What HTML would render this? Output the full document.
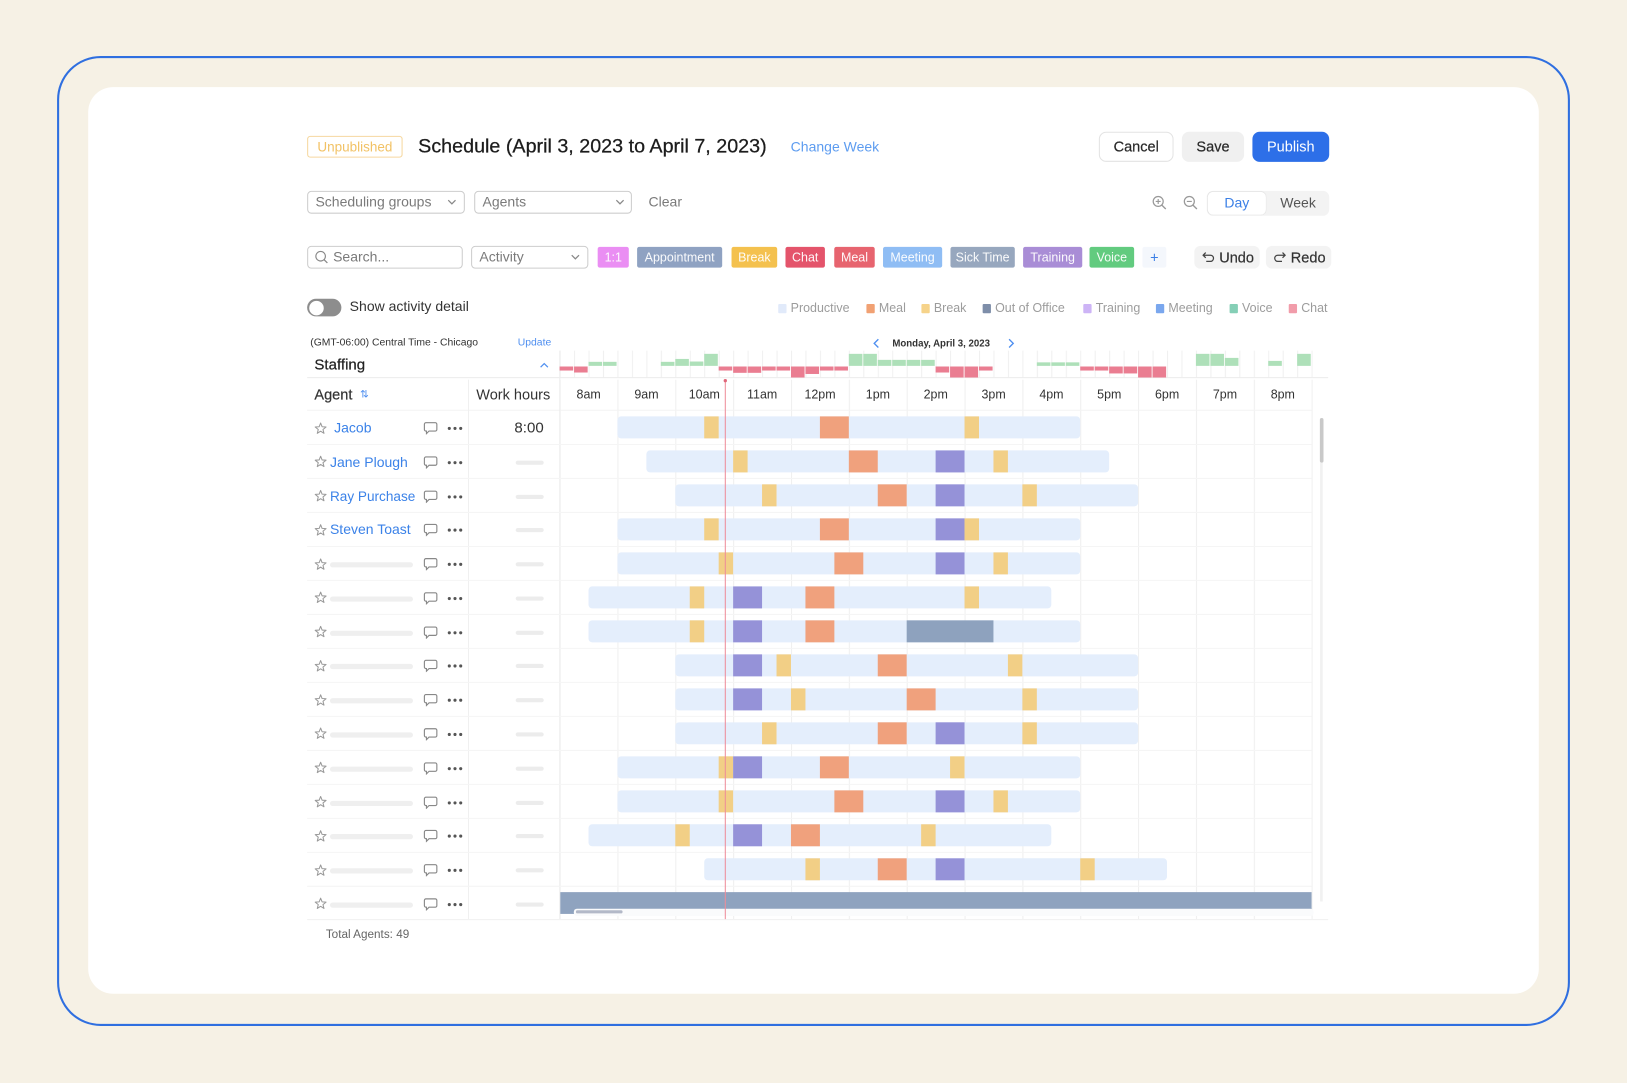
<!DOCTYPE html>
<html><head><meta charset="utf-8">
<style>
html,body{margin:0;padding:0;}
body{width:1627px;height:1083px;overflow:hidden;background:#f6f1e5;font-family:"Liberation Sans",sans-serif;position:relative;}
#w{position:absolute;left:0;top:0;width:1568px;height:1044px;transform:scale(1.03763,1.03736);transform-origin:0 0;}
.a{position:absolute;white-space:nowrap;box-sizing:border-box;}
.dd{position:absolute;box-sizing:border-box;height:22px;border:1px solid #cdcdcd;border-radius:4px;font-size:13.5px;color:#7a7a7a;line-height:20px;padding-left:7px;white-space:nowrap;}
.dd svg{position:absolute;top:7px;}
.chip{position:absolute;top:238px;height:20px;line-height:20px;font-size:12px;color:rgba(255,255,255,0.95);text-align:center;border-radius:2px;white-space:nowrap;}
.lg{position:absolute;top:292px;font-size:12px;color:#9c9c9c;line-height:10px;white-space:nowrap;}
.lg i{position:absolute;left:-12.5px;top:1px;width:8.5px;height:8.5px;border-radius:1px;}
.r{position:absolute;left:0;width:560px;height:20px;}
.r .st{position:absolute;left:303px;top:3.5px;}
.r .ch{position:absolute;left:408px;top:3px;}
.r .dt{position:absolute;left:431px;top:8px;}
.r .nm{position:absolute;left:318px;top:0;line-height:20px;font-size:13.5px;color:#3b82e8;white-space:nowrap;}
.r .ph{position:absolute;left:318px;top:8px;width:80px;height:5px;border-radius:3px;background:#efefef;}
.r .wp{position:absolute;left:497px;top:8px;width:27px;height:4px;border-radius:2px;background:#ececec;}
.tl{position:absolute;top:373px;width:56px;text-align:center;font-size:12px;color:#333;line-height:14px;}
</style></head><body><div id="w">

<!-- frame -->
<div class="a" style="left:55px;top:54px;width:1458px;height:935px;border:2px solid #2f6fe0;border-radius:42px;"></div>
<div class="a" style="left:85px;top:84px;width:1398px;height:874px;background:#fff;border-radius:24px;"></div>

<!-- header -->
<div class="a" style="left:296px;top:131px;width:92px;height:21px;border:1px solid #f6d8a0;border-radius:3px;font-size:13px;color:#f2c265;line-height:19px;text-align:center;">Unpublished</div>
<div class="a" style="left:403px;top:130px;height:24px;line-height:24px;font-size:19px;color:#1c1c1c;-webkit-text-stroke:0.25px #1c1c1c;">Schedule (April 3, 2023 to April 7, 2023)</div>
<div class="a" style="left:762px;top:132px;height:20px;line-height:20px;font-size:13.5px;color:#5d9cf0;">Change Week</div>
<div class="a" style="left:1059px;top:127px;width:72px;height:29px;border:1px solid #e3e3e3;border-radius:7px;font-size:14px;color:#2a2a2a;line-height:27px;text-align:center;-webkit-text-stroke:0.2px #2a2a2a;">Cancel</div>
<div class="a" style="left:1139px;top:127px;width:60px;height:29px;background:#f0f0f0;border-radius:7px;font-size:14px;color:#2a2a2a;line-height:29px;text-align:center;-webkit-text-stroke:0.2px #2a2a2a;">Save</div>
<div class="a" style="left:1207px;top:127px;width:74px;height:29px;background:#2d6fe8;border-radius:7px;font-size:14px;color:#fff;line-height:29px;text-align:center;">Publish</div>

<!-- row 2 -->
<div class="dd" style="left:296px;top:184px;width:152px;">Scheduling groups<svg style="left:134px" width="9" height="6"><polyline points="1,1 4.5,4.5 8,1" fill="none" stroke="#888" stroke-width="1.2"/></svg></div>
<div class="dd" style="left:457px;top:184px;width:152px;">Agents<svg style="left:135px" width="9" height="6"><polyline points="1,1 4.5,4.5 8,1" fill="none" stroke="#888" stroke-width="1.2"/></svg></div>
<div class="a" style="left:625px;top:185px;line-height:20px;font-size:13.5px;color:#7a7a7a;">Clear</div>
<svg class="a" style="left:1110px;top:188px" width="15" height="15"><circle cx="6.2" cy="6.2" r="4.8" fill="none" stroke="#999" stroke-width="1.2"/><line x1="9.7" y1="9.7" x2="13.5" y2="13.5" stroke="#999" stroke-width="1.3"/><line x1="3.8" y1="6.2" x2="8.6" y2="6.2" stroke="#999" stroke-width="1.1"/><line x1="6.2" y1="3.8" x2="6.2" y2="8.6" stroke="#999" stroke-width="1.1"/></svg>
<svg class="a" style="left:1140px;top:188px" width="15" height="15"><circle cx="6.2" cy="6.2" r="4.8" fill="none" stroke="#999" stroke-width="1.2"/><line x1="9.7" y1="9.7" x2="13.5" y2="13.5" stroke="#999" stroke-width="1.3"/><line x1="3.8" y1="6.2" x2="8.6" y2="6.2" stroke="#999" stroke-width="1.1"/></svg>
<div class="a" style="left:1163px;top:184px;width:118px;height:24px;background:#f3f3f3;border-radius:6px;"></div>
<div class="a" style="left:1164px;top:185px;width:56px;height:22px;background:#fff;border-radius:5px;box-shadow:0 0 1px rgba(0,0,0,0.12);font-size:13.5px;color:#3b7fe6;line-height:22px;text-align:center;">Day</div>
<div class="a" style="left:1222px;top:185px;width:58px;height:22px;font-size:13.5px;color:#555;line-height:22px;text-align:center;">Week</div>

<!-- row 3 -->
<div class="dd" style="left:296px;top:237px;width:150px;padding-left:24px;">Search...</div>
<svg class="a" style="left:303px;top:241px" width="14" height="14"><circle cx="6" cy="6" r="4.6" fill="none" stroke="#888" stroke-width="1.1"/><line x1="9.3" y1="9.3" x2="12.5" y2="12.5" stroke="#888" stroke-width="1.2"/></svg>
<div class="dd" style="left:454px;top:237px;width:113px;">Activity<svg style="left:95px" width="9" height="6"><polyline points="1,1 4.5,4.5 8,1" fill="none" stroke="#888" stroke-width="1.2"/></svg></div>
<div class="chip" style="left:576px;width:30px;background:#ea8ef3;">1:1</div>
<div class="chip" style="left:614px;width:82px;background:#8fa2c2;">Appointment</div>
<div class="chip" style="left:705px;width:44px;background:#f4c14e;">Break</div>
<div class="chip" style="left:757px;width:38px;background:#e4546b;">Chat</div>
<div class="chip" style="left:804px;width:39px;background:#e7646f;">Meal</div>
<div class="chip" style="left:851px;width:57px;background:#8fbdf4;">Meeting</div>
<div class="chip" style="left:916px;width:62px;background:#97a7be;">Sick Time</div>
<div class="chip" style="left:986px;width:57px;background:#a98dd6;">Training</div>
<div class="chip" style="left:1050px;width:43px;background:#62cb7f;">Voice</div>
<div class="chip" style="left:1101px;width:23px;background:#f4f7fc;color:#3b7fe6;font-size:14px;">+</div>
<div class="a" style="left:1151px;top:237px;width:63px;height:22px;background:#f3f3f3;border-radius:6px;font-size:14px;color:#333;line-height:22px;padding-left:24px;-webkit-text-stroke:0.2px #333;">Undo</div>
<svg class="a" style="left:1158px;top:242px" width="14" height="12"><path d="M4 1.5 L1.5 4 L4 6.5 M1.5 4 H8.5 a3 3 0 0 1 0 6 H4.5" fill="none" stroke="#444" stroke-width="1.2"/></svg>
<div class="a" style="left:1220px;top:237px;width:63px;height:22px;background:#f3f3f3;border-radius:6px;font-size:14px;color:#333;line-height:22px;padding-left:24px;-webkit-text-stroke:0.2px #333;">Redo</div>
<svg class="a" style="left:1226px;top:242px" width="14" height="12"><path d="M10 1.5 L12.5 4 L10 6.5 M12.5 4 H5.5 a3 3 0 0 0 0 6 H9.5" fill="none" stroke="#444" stroke-width="1.2"/></svg>

<!-- row 4 -->
<div class="a" style="left:296px;top:288px;width:33px;height:17px;border-radius:9px;background:#8d8d8d;"></div>
<div class="a" style="left:298px;top:289.5px;width:14px;height:14px;border-radius:7px;background:#fff;"></div>
<div class="a" style="left:337px;top:286px;line-height:20px;font-size:13.5px;color:#333;">Show activity detail</div>
<div class="lg" style="left:762px;"><i style="background:#e1eafa"></i>Productive</div>
<div class="lg" style="left:847px;"><i style="background:#f1a173"></i>Meal</div>
<div class="lg" style="left:900px;"><i style="background:#f6d38a"></i>Break</div>
<div class="lg" style="left:959px;"><i style="background:#7e8ea9"></i>Out of Office</div>
<div class="lg" style="left:1056px;"><i style="background:#cdb4f6"></i>Training</div>
<div class="lg" style="left:1126px;"><i style="background:#7aa7ee"></i>Meeting</div>
<div class="lg" style="left:1197px;"><i style="background:#85cfb6"></i>Voice</div>
<div class="lg" style="left:1254px;"><i style="background:#f19caa"></i>Chat</div>

<!-- row 5 -->
<div class="a" style="left:299px;top:324px;line-height:14px;font-size:10px;color:#333;">(GMT-06:00) Central Time - Chicago</div>
<div class="a" style="left:499px;top:324px;line-height:14px;font-size:10px;color:#4f8ff0;">Update</div>
<svg class="a" style="left:841px;top:326px" width="7" height="10"><polyline points="5.5,1 1.5,5 5.5,9" fill="none" stroke="#4f8ff0" stroke-width="1.3"/></svg>
<div class="a" style="left:860px;top:324px;line-height:14px;font-size:9.3px;font-weight:bold;color:#333;">Monday, April 3, 2023</div>
<svg class="a" style="left:971px;top:326px" width="7" height="10"><polyline points="1.5,1 5.5,5 1.5,9" fill="none" stroke="#4f8ff0" stroke-width="1.3"/></svg>
<div class="a" style="left:303px;top:343px;line-height:18px;font-size:14.5px;color:#222;-webkit-text-stroke:0.2px #222;">Staffing</div>
<svg class="a" style="left:520px;top:349px" width="9" height="6"><polyline points="1,5 4.5,1.5 8,5" fill="none" stroke="#4f8ff0" stroke-width="1.2"/></svg>

<!-- header row -->
<div class="a" style="left:303px;top:372px;line-height:16px;font-size:14px;color:#333;-webkit-text-stroke:0.2px #333;">Agent</div>
<div class="a" style="left:347px;top:374px;line-height:14px;font-size:10px;color:#4f8ff0;">⇅</div>
<div class="a" style="left:459px;top:372px;line-height:16px;font-size:14px;color:#333;">Work hours</div>
<div class="tl" style="left:539.3px">8am</div>
<div class="tl" style="left:595.05px">9am</div>
<div class="tl" style="left:650.8px">10am</div>
<div class="tl" style="left:706.55px">11am</div>
<div class="tl" style="left:762.3px">12pm</div>
<div class="tl" style="left:818.05px">1pm</div>
<div class="tl" style="left:873.8px">2pm</div>
<div class="tl" style="left:929.55px">3pm</div>
<div class="tl" style="left:985.3px">4pm</div>
<div class="tl" style="left:1041.05px">5pm</div>
<div class="tl" style="left:1096.8px">6pm</div>
<div class="tl" style="left:1152.55px">7pm</div>
<div class="tl" style="left:1208.3px">8pm</div>

<!-- chart svg -->
<svg class="a" style="left:0;top:0" width="1568" height="1044">
<defs>
<pattern id="qg" x="539.3" y="0" width="13.9375" height="10" patternUnits="userSpaceOnUse"><rect width="1" height="10" fill="#f0f0f0"/></pattern>
<pattern id="hg" x="539.3" y="0" width="55.75" height="10" patternUnits="userSpaceOnUse"><rect width="1" height="10" fill="#efefef"/></pattern>
</defs>
<rect x="539" y="338" width="726" height="26" fill="url(#qg)"/>
<rect x="539" y="366" width="726" height="520" fill="url(#hg)"/>
<line x1="296" y1="364" x2="1280" y2="364" stroke="#ececec"/>
<line x1="296" y1="395.5" x2="1264" y2="395.5" stroke="#f3f3f3"/>
<line x1="451.5" y1="366" x2="451.5" y2="886" stroke="#f0f0f0"/>
<line x1="539.5" y1="338" x2="539.5" y2="886" stroke="#ececec"/>
<line x1="296" y1="886.5" x2="1280" y2="886.5" stroke="#f0f0f0"/>
<g stroke="#f5f5f5">
<line x1="296" y1="428.5" x2="1264" y2="428.5"/><line x1="296" y1="461.2" x2="1264" y2="461.2"/><line x1="296" y1="494" x2="1264" y2="494"/><line x1="296" y1="526.8" x2="1264" y2="526.8"/><line x1="296" y1="559.5" x2="1264" y2="559.5"/><line x1="296" y1="592.3" x2="1264" y2="592.3"/><line x1="296" y1="625" x2="1264" y2="625"/><line x1="296" y1="657.8" x2="1264" y2="657.8"/><line x1="296" y1="690.6" x2="1264" y2="690.6"/><line x1="296" y1="723.4" x2="1264" y2="723.4"/><line x1="296" y1="756.1" x2="1264" y2="756.1"/><line x1="296" y1="788.9" x2="1264" y2="788.9"/><line x1="296" y1="821.7" x2="1264" y2="821.7"/><line x1="296" y1="854.4" x2="1264" y2="854.4"/>
</g>
<!-- staffing bars -->
<g transform="translate(539.3,0) scale(13.9375,1)">
<g fill="#aee0b9">
<rect x="2" y="348.8" width="0.94" height="3.9"/><rect x="3" y="348.8" width="0.94" height="3.9"/>
<rect x="7" y="348.8" width="0.94" height="3.9"/><rect x="8" y="346" width="0.94" height="6.7"/><rect x="9" y="348.5" width="0.94" height="4.2"/><rect x="10" y="341.1" width="0.94" height="11.6"/>
<rect x="20" y="341.1" width="0.94" height="11.6"/><rect x="21" y="341.1" width="0.94" height="11.6"/>
<rect x="22" y="346.9" width="0.94" height="5.8"/><rect x="23" y="346.9" width="0.94" height="5.8"/><rect x="24" y="346.9" width="0.94" height="5.8"/><rect x="25" y="346.9" width="0.94" height="5.8"/>
<rect x="33" y="349.3" width="0.94" height="3.4"/><rect x="34" y="349.3" width="0.94" height="3.4"/><rect x="35" y="349.3" width="0.94" height="3.4"/>
<rect x="44" y="341.1" width="0.94" height="11.6"/><rect x="45" y="341.1" width="0.94" height="11.6"/><rect x="46" y="345" width="0.94" height="7.7"/>
<rect x="49" y="347.9" width="0.94" height="4.8"/><rect x="51" y="341.1" width="0.94" height="11.6"/>
</g>
<g fill="#ea7d91">
<rect x="0" y="353.3" width="0.94" height="3.9"/><rect x="1" y="353.3" width="0.94" height="5.8"/>
<rect x="11" y="353.3" width="0.94" height="3.9"/><rect x="12" y="353.3" width="0.94" height="6.1"/><rect x="13" y="353.3" width="0.94" height="6.1"/><rect x="14" y="353.3" width="0.94" height="3.9"/><rect x="15" y="353.3" width="0.94" height="3.9"/><rect x="16" y="353.3" width="0.94" height="10.6"/><rect x="17" y="353.3" width="0.94" height="7.2"/><rect x="18" y="353.3" width="0.94" height="3.9"/><rect x="19" y="353.3" width="0.94" height="3.9"/>
<rect x="26" y="353.3" width="0.94" height="5.8"/><rect x="27" y="353.3" width="0.94" height="10.6"/><rect x="28" y="353.3" width="0.94" height="10.6"/><rect x="29" y="353.3" width="0.94" height="3.9"/>
<rect x="36" y="353.3" width="0.94" height="3.9"/><rect x="37" y="353.3" width="0.94" height="3.9"/><rect x="38" y="353.3" width="0.94" height="6.7"/><rect x="39" y="353.3" width="0.94" height="6.7"/><rect x="40" y="353.3" width="0.94" height="10.6"/><rect x="41" y="353.3" width="0.94" height="10.6"/>
</g>
</g>
<!-- gantt rows -->
<g transform="translate(539.3,0) scale(13.9375,1)">
<g transform="translate(0,401.4)"><rect x="4" width="32" height="21.2" rx="0.25" ry="3.5" fill="#e4eefc"/><rect x="10" width="1" height="21.2" fill="#f2cf86"/><rect x="18" width="2" height="21.2" fill="#f0a17d"/><rect x="28" width="1" height="21.2" fill="#f2cf86"/></g>
<g transform="translate(0,434.2)"><rect x="6" width="32" height="21.2" rx="0.25" ry="3.5" fill="#e4eefc"/><rect x="12" width="1" height="21.2" fill="#f2cf86"/><rect x="20" width="2" height="21.2" fill="#f0a17d"/><rect x="26" width="2" height="21.2" fill="#9592d8"/><rect x="30" width="1" height="21.2" fill="#f2cf86"/></g>
<g transform="translate(0,466.9)"><rect x="8" width="32" height="21.2" rx="0.25" ry="3.5" fill="#e4eefc"/><rect x="14" width="1" height="21.2" fill="#f2cf86"/><rect x="22" width="2" height="21.2" fill="#f0a17d"/><rect x="26" width="2" height="21.2" fill="#9592d8"/><rect x="32" width="1" height="21.2" fill="#f2cf86"/></g>
<g transform="translate(0,499.7)"><rect x="4" width="32" height="21.2" rx="0.25" ry="3.5" fill="#e4eefc"/><rect x="10" width="1" height="21.2" fill="#f2cf86"/><rect x="18" width="2" height="21.2" fill="#f0a17d"/><rect x="26" width="2" height="21.2" fill="#9592d8"/><rect x="28" width="1" height="21.2" fill="#f2cf86"/></g>
<g transform="translate(0,532.5)"><rect x="4" width="32" height="21.2" rx="0.25" ry="3.5" fill="#e4eefc"/><rect x="11" width="1" height="21.2" fill="#f2cf86"/><rect x="19" width="2" height="21.2" fill="#f0a17d"/><rect x="26" width="2" height="21.2" fill="#9592d8"/><rect x="30" width="1" height="21.2" fill="#f2cf86"/></g>
<g transform="translate(0,565.3)"><rect x="2" width="32" height="21.2" rx="0.25" ry="3.5" fill="#e4eefc"/><rect x="9" width="1" height="21.2" fill="#f2cf86"/><rect x="12" width="2" height="21.2" fill="#9592d8"/><rect x="17" width="2" height="21.2" fill="#f0a17d"/><rect x="28" width="1" height="21.2" fill="#f2cf86"/></g>
<g transform="translate(0,598)"><rect x="2" width="34" height="21.2" rx="0.25" ry="3.5" fill="#e4eefc"/><rect x="9" width="1" height="21.2" fill="#f2cf86"/><rect x="12" width="2" height="21.2" fill="#9592d8"/><rect x="17" width="2" height="21.2" fill="#f0a17d"/><rect x="24" width="6" height="21.2" fill="#8ea2be"/></g>
<g transform="translate(0,630.8)"><rect x="8" width="32" height="21.2" rx="0.25" ry="3.5" fill="#e4eefc"/><rect x="12" width="2" height="21.2" fill="#9592d8"/><rect x="15" width="1" height="21.2" fill="#f2cf86"/><rect x="22" width="2" height="21.2" fill="#f0a17d"/><rect x="31" width="1" height="21.2" fill="#f2cf86"/></g>
<g transform="translate(0,663.6)"><rect x="8" width="32" height="21.2" rx="0.25" ry="3.5" fill="#e4eefc"/><rect x="12" width="2" height="21.2" fill="#9592d8"/><rect x="16" width="1" height="21.2" fill="#f2cf86"/><rect x="24" width="2" height="21.2" fill="#f0a17d"/><rect x="32" width="1" height="21.2" fill="#f2cf86"/></g>
<g transform="translate(0,696.3)"><rect x="8" width="32" height="21.2" rx="0.25" ry="3.5" fill="#e4eefc"/><rect x="14" width="1" height="21.2" fill="#f2cf86"/><rect x="22" width="2" height="21.2" fill="#f0a17d"/><rect x="26" width="2" height="21.2" fill="#9592d8"/><rect x="32" width="1" height="21.2" fill="#f2cf86"/></g>
<g transform="translate(0,729.1)"><rect x="4" width="32" height="21.2" rx="0.25" ry="3.5" fill="#e4eefc"/><rect x="11" width="1" height="21.2" fill="#f2cf86"/><rect x="12" width="2" height="21.2" fill="#9592d8"/><rect x="18" width="2" height="21.2" fill="#f0a17d"/><rect x="27" width="1" height="21.2" fill="#f2cf86"/></g>
<g transform="translate(0,761.9)"><rect x="4" width="32" height="21.2" rx="0.25" ry="3.5" fill="#e4eefc"/><rect x="11" width="1" height="21.2" fill="#f2cf86"/><rect x="19" width="2" height="21.2" fill="#f0a17d"/><rect x="26" width="2" height="21.2" fill="#9592d8"/><rect x="30" width="1" height="21.2" fill="#f2cf86"/></g>
<g transform="translate(0,794.6)"><rect x="2" width="32" height="21.2" rx="0.25" ry="3.5" fill="#e4eefc"/><rect x="8" width="1" height="21.2" fill="#f2cf86"/><rect x="12" width="2" height="21.2" fill="#9592d8"/><rect x="16" width="2" height="21.2" fill="#f0a17d"/><rect x="25" width="1" height="21.2" fill="#f2cf86"/></g>
<g transform="translate(0,827.4)"><rect x="10" width="32" height="21.2" rx="0.25" ry="3.5" fill="#e4eefc"/><rect x="17" width="1" height="21.2" fill="#f2cf86"/><rect x="22" width="2" height="21.2" fill="#f0a17d"/><rect x="26" width="2" height="21.2" fill="#9592d8"/><rect x="36" width="1" height="21.2" fill="#f2cf86"/></g>
</g>
<!-- last row OOO + horizontal scrollbar -->
<rect x="540" y="860" width="724" height="21" fill="#8fa3bf"/>
<rect x="553" y="876" width="713" height="7" rx="3" fill="#fafbfc"/>
<rect x="555" y="877.5" width="45" height="3" rx="1.5" fill="#b3b9c8"/>
<!-- vertical scrollbar -->
<line x1="1273.5" y1="446" x2="1273.5" y2="869" stroke="#f1f1f1" stroke-width="2.5"/>
<rect x="1272" y="403" width="3.5" height="43" rx="1.7" fill="#c9c9c9"/>
<!-- now line -->
<line x1="699" y1="366" x2="699" y2="886" stroke="#ee8d9a" stroke-width="1"/>
<circle cx="699" cy="367" r="1.6" fill="#e0677a"/>
</svg>

<!-- left rows -->
<div class="r" style="top:403px"><svg class="st" width="12" height="12"><polygon points="6,0.8 7.41,4.36 11.23,4.6 8.28,7.04 9.23,10.75 6,8.7 2.77,10.75 3.72,7.04 0.77,4.6 4.59,4.36" fill="none" stroke="#9a9a9a" stroke-linejoin="round"/></svg><span class="nm" style="left:322px">Jacob</span><svg class="ch" width="14" height="13"><path d="M2.5 1.5 h9 a1.5 1.5 0 0 1 1.5 1.5 v5 a1.5 1.5 0 0 1 -1.5 1.5 h-6 l-2.5 2.5 v-2.5 h-0.5 a1.5 1.5 0 0 1 -1.5 -1.5 v-5 a1.5 1.5 0 0 1 1.5 -1.5z" fill="none" stroke="#888" stroke-width="1.1"/></svg><svg class="dt" width="15" height="4"><circle cx="2" cy="2" r="1.5" fill="#555"/><circle cx="7.5" cy="2" r="1.5" fill="#555"/><circle cx="13" cy="2" r="1.5" fill="#555"/></svg><span class="a" style="left:484px;top:0;width:40px;text-align:right;line-height:20px;font-size:14.5px;color:#333;">8:00</span></div>

<div class="r" style="top:435.8px"><svg class="st" width="12" height="12"><polygon points="6,0.8 7.41,4.36 11.23,4.6 8.28,7.04 9.23,10.75 6,8.7 2.77,10.75 3.72,7.04 0.77,4.6 4.59,4.36" fill="none" stroke="#9a9a9a" stroke-linejoin="round"/></svg><span class="nm">Jane Plough</span><svg class="ch" width="14" height="13"><path d="M2.5 1.5 h9 a1.5 1.5 0 0 1 1.5 1.5 v5 a1.5 1.5 0 0 1 -1.5 1.5 h-6 l-2.5 2.5 v-2.5 h-0.5 a1.5 1.5 0 0 1 -1.5 -1.5 v-5 a1.5 1.5 0 0 1 1.5 -1.5z" fill="none" stroke="#888" stroke-width="1.1"/></svg><svg class="dt" width="15" height="4"><circle cx="2" cy="2" r="1.5" fill="#555"/><circle cx="7.5" cy="2" r="1.5" fill="#555"/><circle cx="13" cy="2" r="1.5" fill="#555"/></svg><div class="wp"></div></div>

<div class="r" style="top:468.5px"><svg class="st" width="12" height="12"><polygon points="6,0.8 7.41,4.36 11.23,4.6 8.28,7.04 9.23,10.75 6,8.7 2.77,10.75 3.72,7.04 0.77,4.6 4.59,4.36" fill="none" stroke="#9a9a9a" stroke-linejoin="round"/></svg><span class="nm" style="font-size:13.1px">Ray Purchase</span><svg class="ch" width="14" height="13"><path d="M2.5 1.5 h9 a1.5 1.5 0 0 1 1.5 1.5 v5 a1.5 1.5 0 0 1 -1.5 1.5 h-6 l-2.5 2.5 v-2.5 h-0.5 a1.5 1.5 0 0 1 -1.5 -1.5 v-5 a1.5 1.5 0 0 1 1.5 -1.5z" fill="none" stroke="#888" stroke-width="1.1"/></svg><svg class="dt" width="15" height="4"><circle cx="2" cy="2" r="1.5" fill="#555"/><circle cx="7.5" cy="2" r="1.5" fill="#555"/><circle cx="13" cy="2" r="1.5" fill="#555"/></svg><div class="wp"></div></div>

<div class="r" style="top:501.3px"><svg class="st" width="12" height="12"><polygon points="6,0.8 7.41,4.36 11.23,4.6 8.28,7.04 9.23,10.75 6,8.7 2.77,10.75 3.72,7.04 0.77,4.6 4.59,4.36" fill="none" stroke="#9a9a9a" stroke-linejoin="round"/></svg><span class="nm">Steven Toast</span><svg class="ch" width="14" height="13"><path d="M2.5 1.5 h9 a1.5 1.5 0 0 1 1.5 1.5 v5 a1.5 1.5 0 0 1 -1.5 1.5 h-6 l-2.5 2.5 v-2.5 h-0.5 a1.5 1.5 0 0 1 -1.5 -1.5 v-5 a1.5 1.5 0 0 1 1.5 -1.5z" fill="none" stroke="#888" stroke-width="1.1"/></svg><svg class="dt" width="15" height="4"><circle cx="2" cy="2" r="1.5" fill="#555"/><circle cx="7.5" cy="2" r="1.5" fill="#555"/><circle cx="13" cy="2" r="1.5" fill="#555"/></svg><div class="wp"></div></div>

<div class="r" style="top:534.1px"><svg class="st" width="12" height="12"><polygon points="6,0.8 7.41,4.36 11.23,4.6 8.28,7.04 9.23,10.75 6,8.7 2.77,10.75 3.72,7.04 0.77,4.6 4.59,4.36" fill="none" stroke="#9a9a9a" stroke-linejoin="round"/></svg><div class="ph"></div><svg class="ch" width="14" height="13"><path d="M2.5 1.5 h9 a1.5 1.5 0 0 1 1.5 1.5 v5 a1.5 1.5 0 0 1 -1.5 1.5 h-6 l-2.5 2.5 v-2.5 h-0.5 a1.5 1.5 0 0 1 -1.5 -1.5 v-5 a1.5 1.5 0 0 1 1.5 -1.5z" fill="none" stroke="#888" stroke-width="1.1"/></svg><svg class="dt" width="15" height="4"><circle cx="2" cy="2" r="1.5" fill="#555"/><circle cx="7.5" cy="2" r="1.5" fill="#555"/><circle cx="13" cy="2" r="1.5" fill="#555"/></svg><div class="wp"></div></div>

<div class="r" style="top:566.9px"><svg class="st" width="12" height="12"><polygon points="6,0.8 7.41,4.36 11.23,4.6 8.28,7.04 9.23,10.75 6,8.7 2.77,10.75 3.72,7.04 0.77,4.6 4.59,4.36" fill="none" stroke="#9a9a9a" stroke-linejoin="round"/></svg><div class="ph"></div><svg class="ch" width="14" height="13"><path d="M2.5 1.5 h9 a1.5 1.5 0 0 1 1.5 1.5 v5 a1.5 1.5 0 0 1 -1.5 1.5 h-6 l-2.5 2.5 v-2.5 h-0.5 a1.5 1.5 0 0 1 -1.5 -1.5 v-5 a1.5 1.5 0 0 1 1.5 -1.5z" fill="none" stroke="#888" stroke-width="1.1"/></svg><svg class="dt" width="15" height="4"><circle cx="2" cy="2" r="1.5" fill="#555"/><circle cx="7.5" cy="2" r="1.5" fill="#555"/><circle cx="13" cy="2" r="1.5" fill="#555"/></svg><div class="wp"></div></div>

<div class="r" style="top:599.6px"><svg class="st" width="12" height="12"><polygon points="6,0.8 7.41,4.36 11.23,4.6 8.28,7.04 9.23,10.75 6,8.7 2.77,10.75 3.72,7.04 0.77,4.6 4.59,4.36" fill="none" stroke="#9a9a9a" stroke-linejoin="round"/></svg><div class="ph"></div><svg class="ch" width="14" height="13"><path d="M2.5 1.5 h9 a1.5 1.5 0 0 1 1.5 1.5 v5 a1.5 1.5 0 0 1 -1.5 1.5 h-6 l-2.5 2.5 v-2.5 h-0.5 a1.5 1.5 0 0 1 -1.5 -1.5 v-5 a1.5 1.5 0 0 1 1.5 -1.5z" fill="none" stroke="#888" stroke-width="1.1"/></svg><svg class="dt" width="15" height="4"><circle cx="2" cy="2" r="1.5" fill="#555"/><circle cx="7.5" cy="2" r="1.5" fill="#555"/><circle cx="13" cy="2" r="1.5" fill="#555"/></svg><div class="wp"></div></div>

<div class="r" style="top:632.4px"><svg class="st" width="12" height="12"><polygon points="6,0.8 7.41,4.36 11.23,4.6 8.28,7.04 9.23,10.75 6,8.7 2.77,10.75 3.72,7.04 0.77,4.6 4.59,4.36" fill="none" stroke="#9a9a9a" stroke-linejoin="round"/></svg><div class="ph"></div><svg class="ch" width="14" height="13"><path d="M2.5 1.5 h9 a1.5 1.5 0 0 1 1.5 1.5 v5 a1.5 1.5 0 0 1 -1.5 1.5 h-6 l-2.5 2.5 v-2.5 h-0.5 a1.5 1.5 0 0 1 -1.5 -1.5 v-5 a1.5 1.5 0 0 1 1.5 -1.5z" fill="none" stroke="#888" stroke-width="1.1"/></svg><svg class="dt" width="15" height="4"><circle cx="2" cy="2" r="1.5" fill="#555"/><circle cx="7.5" cy="2" r="1.5" fill="#555"/><circle cx="13" cy="2" r="1.5" fill="#555"/></svg><div class="wp"></div></div>

<div class="r" style="top:665.2px"><svg class="st" width="12" height="12"><polygon points="6,0.8 7.41,4.36 11.23,4.6 8.28,7.04 9.23,10.75 6,8.7 2.77,10.75 3.72,7.04 0.77,4.6 4.59,4.36" fill="none" stroke="#9a9a9a" stroke-linejoin="round"/></svg><div class="ph"></div><svg class="ch" width="14" height="13"><path d="M2.5 1.5 h9 a1.5 1.5 0 0 1 1.5 1.5 v5 a1.5 1.5 0 0 1 -1.5 1.5 h-6 l-2.5 2.5 v-2.5 h-0.5 a1.5 1.5 0 0 1 -1.5 -1.5 v-5 a1.5 1.5 0 0 1 1.5 -1.5z" fill="none" stroke="#888" stroke-width="1.1"/></svg><svg class="dt" width="15" height="4"><circle cx="2" cy="2" r="1.5" fill="#555"/><circle cx="7.5" cy="2" r="1.5" fill="#555"/><circle cx="13" cy="2" r="1.5" fill="#555"/></svg><div class="wp"></div></div>

<div class="r" style="top:697.9px"><svg class="st" width="12" height="12"><polygon points="6,0.8 7.41,4.36 11.23,4.6 8.28,7.04 9.23,10.75 6,8.7 2.77,10.75 3.72,7.04 0.77,4.6 4.59,4.36" fill="none" stroke="#9a9a9a" stroke-linejoin="round"/></svg><div class="ph"></div><svg class="ch" width="14" height="13"><path d="M2.5 1.5 h9 a1.5 1.5 0 0 1 1.5 1.5 v5 a1.5 1.5 0 0 1 -1.5 1.5 h-6 l-2.5 2.5 v-2.5 h-0.5 a1.5 1.5 0 0 1 -1.5 -1.5 v-5 a1.5 1.5 0 0 1 1.5 -1.5z" fill="none" stroke="#888" stroke-width="1.1"/></svg><svg class="dt" width="15" height="4"><circle cx="2" cy="2" r="1.5" fill="#555"/><circle cx="7.5" cy="2" r="1.5" fill="#555"/><circle cx="13" cy="2" r="1.5" fill="#555"/></svg><div class="wp"></div></div>

<div class="r" style="top:730.7px"><svg class="st" width="12" height="12"><polygon points="6,0.8 7.41,4.36 11.23,4.6 8.28,7.04 9.23,10.75 6,8.7 2.77,10.75 3.72,7.04 0.77,4.6 4.59,4.36" fill="none" stroke="#9a9a9a" stroke-linejoin="round"/></svg><div class="ph"></div><svg class="ch" width="14" height="13"><path d="M2.5 1.5 h9 a1.5 1.5 0 0 1 1.5 1.5 v5 a1.5 1.5 0 0 1 -1.5 1.5 h-6 l-2.5 2.5 v-2.5 h-0.5 a1.5 1.5 0 0 1 -1.5 -1.5 v-5 a1.5 1.5 0 0 1 1.5 -1.5z" fill="none" stroke="#888" stroke-width="1.1"/></svg><svg class="dt" width="15" height="4"><circle cx="2" cy="2" r="1.5" fill="#555"/><circle cx="7.5" cy="2" r="1.5" fill="#555"/><circle cx="13" cy="2" r="1.5" fill="#555"/></svg><div class="wp"></div></div>

<div class="r" style="top:763.5px"><svg class="st" width="12" height="12"><polygon points="6,0.8 7.41,4.36 11.23,4.6 8.28,7.04 9.23,10.75 6,8.7 2.77,10.75 3.72,7.04 0.77,4.6 4.59,4.36" fill="none" stroke="#9a9a9a" stroke-linejoin="round"/></svg><div class="ph"></div><svg class="ch" width="14" height="13"><path d="M2.5 1.5 h9 a1.5 1.5 0 0 1 1.5 1.5 v5 a1.5 1.5 0 0 1 -1.5 1.5 h-6 l-2.5 2.5 v-2.5 h-0.5 a1.5 1.5 0 0 1 -1.5 -1.5 v-5 a1.5 1.5 0 0 1 1.5 -1.5z" fill="none" stroke="#888" stroke-width="1.1"/></svg><svg class="dt" width="15" height="4"><circle cx="2" cy="2" r="1.5" fill="#555"/><circle cx="7.5" cy="2" r="1.5" fill="#555"/><circle cx="13" cy="2" r="1.5" fill="#555"/></svg><div class="wp"></div></div>

<div class="r" style="top:796.2px"><svg class="st" width="12" height="12"><polygon points="6,0.8 7.41,4.36 11.23,4.6 8.28,7.04 9.23,10.75 6,8.7 2.77,10.75 3.72,7.04 0.77,4.6 4.59,4.36" fill="none" stroke="#9a9a9a" stroke-linejoin="round"/></svg><div class="ph"></div><svg class="ch" width="14" height="13"><path d="M2.5 1.5 h9 a1.5 1.5 0 0 1 1.5 1.5 v5 a1.5 1.5 0 0 1 -1.5 1.5 h-6 l-2.5 2.5 v-2.5 h-0.5 a1.5 1.5 0 0 1 -1.5 -1.5 v-5 a1.5 1.5 0 0 1 1.5 -1.5z" fill="none" stroke="#888" stroke-width="1.1"/></svg><svg class="dt" width="15" height="4"><circle cx="2" cy="2" r="1.5" fill="#555"/><circle cx="7.5" cy="2" r="1.5" fill="#555"/><circle cx="13" cy="2" r="1.5" fill="#555"/></svg><div class="wp"></div></div>

<div class="r" style="top:829px"><svg class="st" width="12" height="12"><polygon points="6,0.8 7.41,4.36 11.23,4.6 8.28,7.04 9.23,10.75 6,8.7 2.77,10.75 3.72,7.04 0.77,4.6 4.59,4.36" fill="none" stroke="#9a9a9a" stroke-linejoin="round"/></svg><div class="ph"></div><svg class="ch" width="14" height="13"><path d="M2.5 1.5 h9 a1.5 1.5 0 0 1 1.5 1.5 v5 a1.5 1.5 0 0 1 -1.5 1.5 h-6 l-2.5 2.5 v-2.5 h-0.5 a1.5 1.5 0 0 1 -1.5 -1.5 v-5 a1.5 1.5 0 0 1 1.5 -1.5z" fill="none" stroke="#888" stroke-width="1.1"/></svg><svg class="dt" width="15" height="4"><circle cx="2" cy="2" r="1.5" fill="#555"/><circle cx="7.5" cy="2" r="1.5" fill="#555"/><circle cx="13" cy="2" r="1.5" fill="#555"/></svg><div class="wp"></div></div>

<div class="r" style="top:861.8px"><svg class="st" width="12" height="12"><polygon points="6,0.8 7.41,4.36 11.23,4.6 8.28,7.04 9.23,10.75 6,8.7 2.77,10.75 3.72,7.04 0.77,4.6 4.59,4.36" fill="none" stroke="#9a9a9a" stroke-linejoin="round"/></svg><div class="ph"></div><svg class="ch" width="14" height="13"><path d="M2.5 1.5 h9 a1.5 1.5 0 0 1 1.5 1.5 v5 a1.5 1.5 0 0 1 -1.5 1.5 h-6 l-2.5 2.5 v-2.5 h-0.5 a1.5 1.5 0 0 1 -1.5 -1.5 v-5 a1.5 1.5 0 0 1 1.5 -1.5z" fill="none" stroke="#888" stroke-width="1.1"/></svg><svg class="dt" width="15" height="4"><circle cx="2" cy="2" r="1.5" fill="#555"/><circle cx="7.5" cy="2" r="1.5" fill="#555"/><circle cx="13" cy="2" r="1.5" fill="#555"/></svg><div class="wp"></div></div>

<div class="a" style="left:314px;top:894px;line-height:14px;font-size:11.3px;color:#666;">Total Agents: 49</div>

</div></body></html>
